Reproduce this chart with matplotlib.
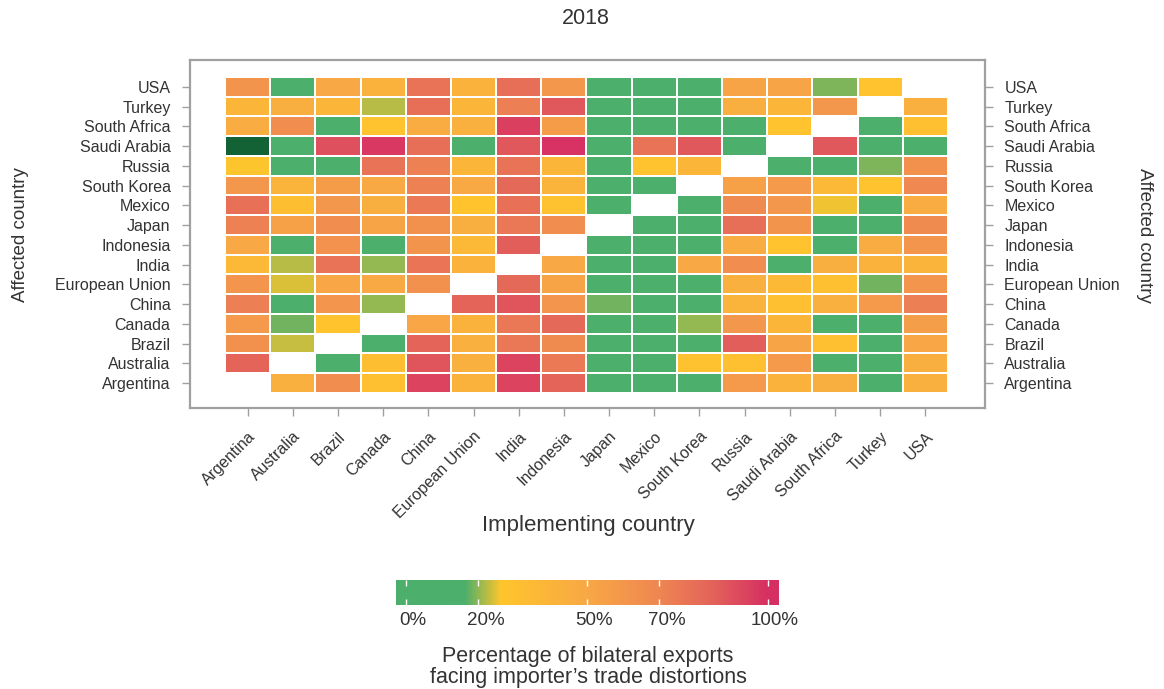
import numpy as np
import matplotlib
matplotlib.use('Agg')
import matplotlib.pyplot as plt
from matplotlib.colors import LinearSegmentedColormap
from matplotlib.transforms import ScaledTranslation

plt.rcParams['font.family'] = ['Liberation Sans', 'DejaVu Sans']

nan = np.nan

# implementing countries (columns) and affected countries (rows, bottom to top)
implementing = ['Argentina', 'Australia', 'Brazil', 'Canada', 'China', 'European Union',
                'India', 'Indonesia', 'Japan', 'Mexico', 'South Korea', 'Russia',
                'Saudi Arabia', 'South Africa', 'Turkey', 'USA']
affected = list(implementing)

# share (%) of bilateral exports facing the importer's distortions, one row per affected country
share = {
    'Argentina':      [nan, 43, 66, 31, 94, 42, 94, 84, 5, 5, 5, 58, 42, 45, 5, 43],
    'Australia':      [84, nan, 5, 32, 89, 43, 94, 75, 5, 5, 29, 30, 58, 5, 5, 45],
    'Brazil':         [64, 23, nan, 5, 84, 43, 76, 67, 5, 5, 5, 86, 52, 30, 5, 51],
    'Canada':         [58, 18, 27, nan, 51, 42, 76, 82, 5, 5, 20, 60, 39, 5, 5, 56],
    'China':          [73, 5, 61, 20, nan, 84, 89, 61, 18, 5, 5, 40, 30, 43, 58, 73],
    'European Union': [61, 24, 51, 49, 64, nan, 82, 52, 5, 5, 5, 43, 36, 31, 18, 61],
    'India':          [37, 22, 78, 20, 77, 42, nan, 50, 5, 5, 50, 66, 5, 45, 42, 40],
    'Indonesia':      [50, 5, 63, 5, 62, 37, 86, nan, 5, 5, 5, 47, 28, 5, 47, 61],
    'Japan':          [72, 55, 65, 52, 64, 45, 76, 65, nan, 5, 5, 80, 62, 5, 5, 67],
    'Mexico':         [79, 32, 60, 45, 75, 27, 79, 29, 5, nan, 5, 67, 60, 25, 5, 47],
    'South Korea':    [60, 40, 57, 49, 72, 49, 82, 40, 5, 5, nan, 55, 58, 37, 28, 68],
    'Russia':         [26, 5, 5, 78, 72, 38, 78, 38, 5, 28, 39, nan, 5, 5, 19, 64],
    'Saudi Arabia':   [0, 5, 90, 97, 80, 5, 88, 99, 5, 78, 88, 5, nan, 88, 5, 5],
    'South Africa':   [47, 65, 5, 28, 47, 43, 95, 57, 5, 5, 5, 5, 28, nan, 5, 30],
    'Turkey':         [38, 45, 38, 22, 80, 38, 73, 88, 5, 5, 5, 45, 38, 60, nan, 43],
    'USA':            [62, 5, 50, 42, 78, 42, 80, 60, 5, 5, 5, 52, 52, 19, 28, nan],
}
# cell drawn in a separate dark green (affected, implementing)
highlight = [('Saudi Arabia', 'Argentina')]

cbar_ticks = [0, 20, 50, 70, 100]
cbar_labels = ['0%', '20%', '50%', '70%', '100%']

cmap = LinearSegmentedColormap.from_list('dist', [
    (0.0, '#4caf6c'), (0.16, '#4caf6c'), (0.26, '#ffc52c'), (0.5, '#f8a845'),
    (0.7, '#ef8652'), (0.85, '#e3625a'), (1.0, '#d62f63')])

Z = np.array([share[c] for c in affected], dtype=float)
Zm = np.ma.masked_invalid(Z)

fig = plt.figure(figsize=(11.64, 6.89), dpi=100)
ax = fig.add_axes([190 / 1164, 1 - 408 / 689, 795 / 1164, 348 / 689])

xe = np.arange(len(implementing) + 1) - 0.5
ye = np.arange(len(affected) + 1) - 0.5
ax.pcolormesh(xe, ye, Zm / 100, cmap=cmap, vmin=0, vmax=1,
              edgecolors='white', linewidth=1.4)

hl = np.ma.masked_all(Z.shape)
for a, i in highlight:
    hl[affected.index(a), implementing.index(i)] = 1
ax.pcolormesh(xe, ye, hl, cmap=LinearSegmentedColormap.from_list('hl', ['#136235', '#136235']),
              edgecolors='white', linewidth=1.4)

ax.set_xlim(-1.275, 16.32)
ax.set_ylim(-1.26, 16.36)

grey = '#a0a0a0'
for s in ax.spines.values():
    s.set_color(grey)
    s.set_linewidth(1.6)

ax.set_xticks(range(len(implementing)))
ax.set_xticklabels(implementing, rotation=45, ha='right', va='top',
                   rotation_mode='anchor', fontsize=11.5, color='#333333')
ax.set_yticks(range(len(affected)))
ax.set_yticklabels(affected, fontsize=11.5, color='#333333')
ax.tick_params(axis='both', length=6, width=1, color=grey, pad=8)
ax.tick_params(axis='x', pad=9)
ax.tick_params(axis='y', right=True, labelright=True)

fig.text(586 / 1164, 1 - 18 / 689, '2018', ha='center', va='center', fontsize=15.5, color='#333333')
fig.text(588 / 1164, 1 - 526 / 689, 'Implementing country', ha='center', va='center',
         fontsize=16, color='#333333')
fig.text(21 / 1164, 1 - 235 / 689, 'Affected country', ha='center', va='center',
         rotation=90, fontsize=13.5, color='#333333')
fig.text(1145 / 1164, 1 - 235 / 689, 'Affected country', ha='center', va='center',
         rotation=270, fontsize=13.5, color='#333333')

# colour bar
cax = fig.add_axes([396 / 1164, 1 - 605 / 689, 382 / 1164, 25 / 689])
grad = np.linspace(-2.8, 102.8, 400)
cax.imshow(np.clip(grad, 0, 100)[None, :] / 100, cmap=cmap, vmin=0, vmax=1,
           extent=[-2.8, 102.8, 0, 1], aspect='auto')
cax.set_xlim(-2.8, 102.8)
cax.set_yticks([])
cax.set_xticks(cbar_ticks)
cax.set_xticklabels(cbar_labels, fontsize=13.5, color='#333333')
cax.tick_params(axis='x', direction='in', length=4, width=1, color='white',
                top=True, pad=5)
shift = ScaledTranslation(7 / 100, 0, fig.dpi_scale_trans)
for lab in cax.get_xticklabels():
    lab.set_transform(lab.get_transform() + shift)
for s in cax.spines.values():
    s.set_visible(False)

fig.text(588 / 1164, 1 - 667 / 689,
         'Percentage of bilateral exports\nfacing importer\u2019s trade distortions',
         ha='center', va='center', fontsize=15.5, color='#333333', linespacing=1.0)

fig.savefig('out.png', dpi=100)
